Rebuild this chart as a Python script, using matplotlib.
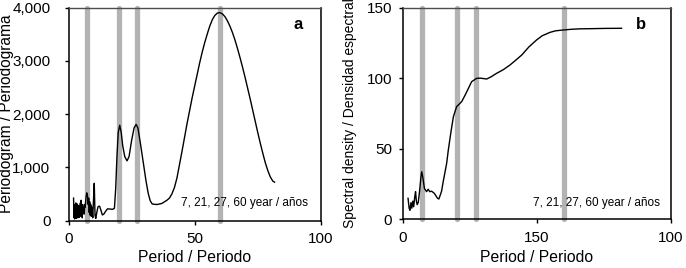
import matplotlib
matplotlib.use("Agg")
import matplotlib.pyplot as plt

plt.rcParams['font.family'] = ['Liberation Sans', 'DejaVu Sans']

# ---- data ----
a_period = [2.0, 2.15, 2.3, 2.45, 2.6, 2.75, 2.9, 3.05, 3.2, 3.35, 3.5, 3.65, 3.8, 3.95,
            4.1, 4.25, 4.4, 4.55, 4.7, 4.85, 5.0, 5.15, 5.3, 5.45, 5.6, 5.8, 6.0, 6.2,
            6.4, 6.6, 6.9, 7.2, 7.5, 7.8, 8.0, 8.2, 8.4, 8.6, 8.8, 9.0, 9.3, 9.6, 10.0,
            10.2, 10.5, 10.8, 11.2, 11.7, 12.3, 12.8, 13.4, 14.0, 14.8, 15.5, 16.5, 17.5,
            18.2, 18.7, 19.2, 19.7, 20.3, 20.9, 21.5, 22.3, 23.2, 24.0, 25.0, 26.0, 26.8,
            27.5, 28.5, 29.7, 30.7, 31.6, 32.4, 33.2, 35, 37, 39, 40, 41, 42, 43, 44, 45,
            46, 47, 48, 49, 50, 51, 52, 53, 54, 55, 56, 57, 58, 59, 60, 61, 62, 63, 64,
            65, 66, 67, 68, 69, 70, 71, 72, 73, 74, 75, 76, 77, 78, 79, 80, 81, 81.7]
a_periodogram = [420, 50, 300, 30, 250, 60, 330, 40, 200, 80, 310, 50, 240, 100,
                 280, 60, 200, 120, 330, 80, 380, 100, 250, 50, 300, 150, 200, 120,
                 300, 250, 420, 520, 480, 300, 420, 150, 350, 100, 300, 80, 250, 50, 500,
                 700, 100, 40, 150, 260, 270, 200, 105, 120, 180, 220, 215, 210,
                 230, 600, 1200, 1650, 1790, 1650, 1400, 1200, 1120, 1200, 1500, 1740, 1805,
                 1740, 1450, 1070, 750, 510, 370, 310, 300, 320, 380, 420, 500, 620, 800, 1050, 1300,
                 1560, 1820, 2060, 2300, 2520, 2740, 2960, 3160, 3340, 3500, 3650, 3770, 3850, 3895, 3905, 3880, 3830, 3750, 3650,
                 3530, 3390, 3230, 3060, 2880, 2690, 2490, 2290, 2080, 1870, 1660, 1460, 1270, 1090, 940, 820, 740, 720]

b_period = [2.0, 2.4, 2.7, 3.1, 3.4, 3.8, 4.1, 4.5, 4.8, 5.1, 5.4, 5.8, 6.3, 6.8, 7.1, 7.5,
            8.1, 8.9, 9.5, 10.1, 10.8, 11.8, 13.0, 13.5, 14.5, 15.1, 16.4, 17, 18, 18.9,
            20.1, 21, 22, 23, 23.9, 25.7, 27.6, 29, 31.3, 33, 35, 37.5, 40, 42, 44.4, 47,
            49.9, 52, 54.9, 57, 59.9, 63, 66, 69.8, 75, 81.6]
b_density = [15, 8, 6.5, 12, 8, 13, 9, 16, 19.7, 13, 10.5, 12, 20, 30, 33.8, 30,
             22, 19.7, 21.4, 19.7, 20, 18.5, 15, 14.5, 20, 26.7, 39.8, 49, 62, 72.7,
             79.8, 81.5, 83.4, 87, 90.4, 97.5, 99.9, 100, 99.4, 101, 103.4, 106, 109.3, 112.5, 116.4, 122,
             127, 130, 132.4, 133.5, 134.1, 134.6, 134.9, 135, 135.2, 135.3]

a_cycles = [7.4, 20.2, 27.0, 60.0]
b_cycles = [7.1, 20.1, 27.2, 60.0]

a_yticks = [0, 1000, 2000, 3000, 4000]
a_yticklabels = ['0', '1,000', '2,000', '3,000', '4,000']
b_yticks = [0, 50, 100, 150]
xticks = [0, 50, 100]
a_xticklabels = ['0', '50', '100']
b_xticklabels = ['0', '150', '100']

note = '7, 21, 27, 60 year / años'

fig = plt.figure(figsize=(6.86, 2.68), dpi=100)
axa = fig.add_axes([0.0999, 0.1772, 0.3676, 0.7948])
axb = fig.add_axes([0.587, 0.181, 0.391, 0.791])

grey = '#b3b3b3'

def style(ax, ymax, cycles, padl):
    for c in cycles:
        ax.plot([c, c], [0, ymax], color=grey, lw=3.8, solid_capstyle='round',
                clip_on=False, zorder=1)
    ax.set_xlim(0, 100)
    ax.set_ylim(0, ymax)
    for s in ['left', 'bottom', 'right']:
        ax.spines[s].set_color('black')
        ax.spines[s].set_linewidth(1.1)
    ax.spines['top'].set_color('#4d4d4d')
    ax.spines['top'].set_linewidth(1.0)
    ax.tick_params(axis='both', direction='out', length=3, width=1, labelsize=11,
                   colors='black')
    ax.tick_params(axis='y', pad=padl)
    ax.tick_params(axis='x', pad=5.5)
    ax.set_xticks(xticks)

style(axa, 4000, a_cycles, 10.0)
axa.plot(a_period, a_periodogram, color='black', lw=1.0, zorder=3)
axa.set_yticks(a_yticks)
axa.set_yticklabels(a_yticklabels)
axa.set_xticklabels(a_xticklabels)
axa.set_xlabel('Period / Periodo', fontsize=11.3)
axa.set_ylabel('Periodogram / Periodograma', fontsize=11.2)
axa.yaxis.set_label_coords(-0.215, 0.5)
axa.xaxis.set_label_coords(0.5, -0.14)
axa.text(0.95, 0.082, note, transform=axa.transAxes, ha='right', va='center',
         fontsize=8.5, zorder=5)
axa.text(0.91, 0.918, 'a', transform=axa.transAxes, ha='center', va='center',
         fontsize=12, fontweight='bold')

style(axb, 150, b_cycles, 4.6)
axb.plot(b_period, b_density, color='black', lw=1.0, zorder=3)
axb.set_yticks(b_yticks)
axb.set_xticklabels(b_xticklabels)
axb.set_xlabel('Period / Periodo', fontsize=11.3)
axb.set_ylabel('Spectral density / Densidad espectral', fontsize=10)
axb.yaxis.set_label_coords(-0.172, 0.5)
axb.xaxis.set_label_coords(0.5, -0.142)
axb.text(0.959, 0.079, note, transform=axb.transAxes, ha='right', va='center',
         fontsize=8.5, zorder=5)
axb.text(0.888, 0.922, 'b', transform=axb.transAxes, ha='center', va='center',
         fontsize=12, fontweight='bold')

fig.savefig('out.png', dpi=100)
